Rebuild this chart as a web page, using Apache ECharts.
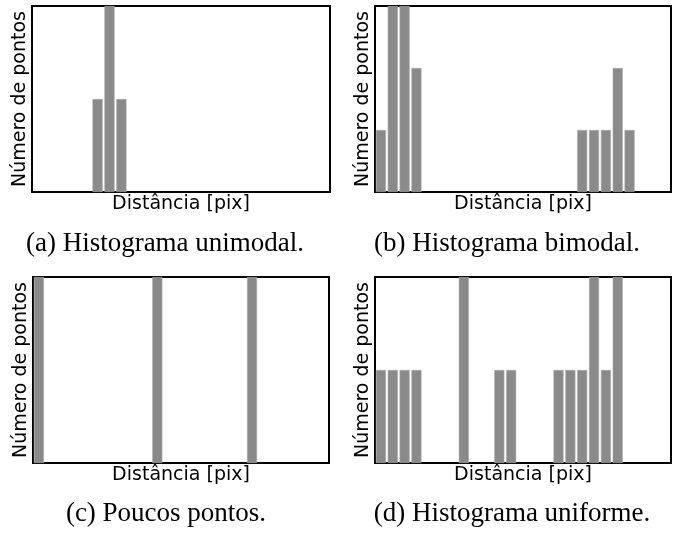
<!DOCTYPE html>
<html>
<head>
<meta charset="utf-8">
<script src="https://cdn.jsdelivr.net/npm/echarts@6/dist/echarts.min.js"></script>
<style>
html,body{margin:0;padding:0;background:#fff}
#main{width:678px;height:533px}
</style>
</head>
<body>
<div id="main"></div>
<script>
// 25 bins de distancia
var bins = ['1','2','3','4','5','6','7','8','9','10','11','12','13','14','15','16','17','18','19','20','21','22','23','24','25'];

var unimodal = [0,0,0,0,0,1,2,1,0,0,0,0,0,0,0,0,0,0,0,0,0,0,0,0,0];
var bimodal  = [1,3,3,2,0,0,0,0,0,0,0,0,0,0,0,0,0,1,1,1,2,1,0,0,0];
var poucos   = [1,0,0,0,0,0,0,0,0,0,1,0,0,0,0,0,0,0,1,0,0,0,0,0,0];
var uniforme = [1,1,1,1,0,0,0,2,0,0,1,1,0,0,0,1,1,1,2,1,2,0,0,0,0];

var captions = ['(a) Histograma unimodal.', '(b) Histograma bimodal.', '(c) Poucos pontos.', '(d) Histograma uniforme.'];
var xName = 'Distância [pix]';
var yName = 'Número de pontos';

var panels = [unimodal, bimodal, poucos, uniforme];
var grids = [
  {left: 32, top: 6, width: 298, height: 186},
  {left: 375, top: 6, width: 296, height: 186},
  {left: 33, top: 277, width: 296, height: 186},
  {left: 375, top: 277, width: 296, height: 186}
];
var capPos = [[165, 244], [507, 244], [166, 514], [512, 514]];

var chart = echarts.init(document.getElementById('main'));

var option = {
  animation: false,
  grid: [], xAxis: [], yAxis: [], series: [], graphic: []
};

panels.forEach(function (data, i) {
  var g = grids[i];
  option.grid.push({
    left: g.left, top: g.top, width: g.width, height: g.height,
    show: true, borderColor: '#000', borderWidth: 2, backgroundColor: '#fff'
  });
  option.xAxis.push({
    type: 'category', gridIndex: i, data: bins,
    name: xName, nameLocation: 'middle', nameGap: 3,
    nameTextStyle: {fontFamily: 'DejaVu Sans', fontSize: 19, color: '#000'},
    axisLine: {show: false}, axisTick: {show: false}, axisLabel: {show: false}, splitLine: {show: false}
  });
  option.yAxis.push({
    type: 'value', gridIndex: i, min: 0, max: 'dataMax',
    name: yName, nameLocation: 'middle', nameGap: 2,
    nameTextStyle: {fontFamily: 'DejaVu Sans', fontSize: 19, color: '#000'},
    axisLine: {show: false}, axisTick: {show: false}, axisLabel: {show: false}, splitLine: {show: false}
  });
  option.series.push({
    type: 'bar', xAxisIndex: i, yAxisIndex: i,
    // bins vazios nao desenham nada
    data: data.map(function (v) { return v === 0 ? '-' : v; }),
    barCategoryGap: '15%',
    itemStyle: {color: '#8a8a8a', borderColor: '#a9a9a9', borderWidth: 0.6}
  });
  option.graphic.push({
    type: 'text', x: capPos[i][0], y: capPos[i][1],
    style: {
      text: captions[i], fill: '#000',
      font: '27px "Liberation Serif"',
      textAlign: 'center', textVerticalAlign: 'middle'
    }
  });
});

chart.setOption(option);
</script>
</body>
</html>
